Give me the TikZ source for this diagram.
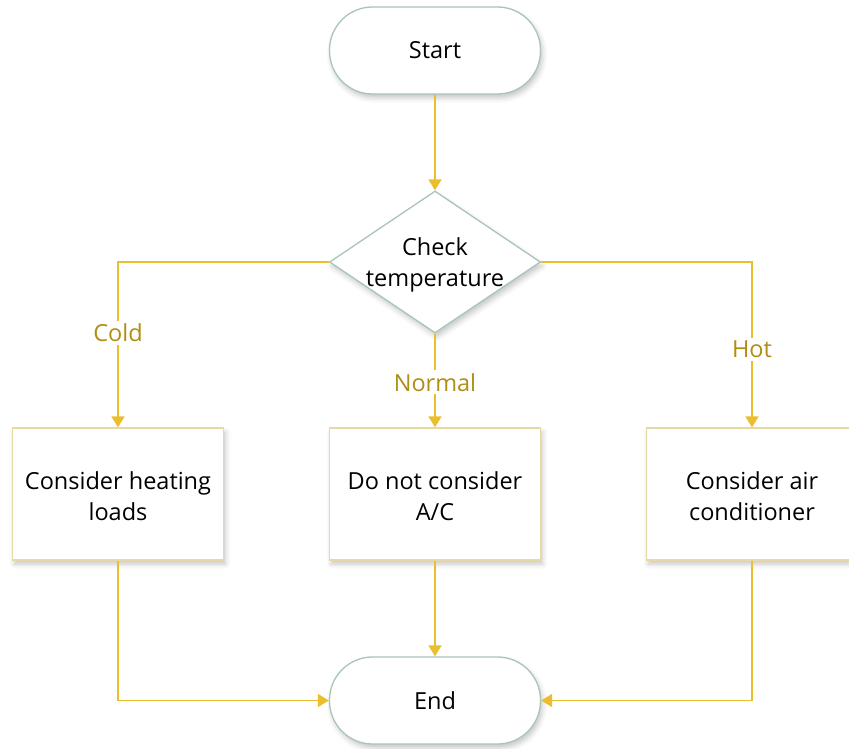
\documentclass[tikz,border=0pt]{standalone}
\usepackage{fontspec}
\setmainfont{Open Sans}
\usetikzlibrary{arrows.meta,shapes.geometric,shadows.blur}
\definecolor{flowline}{HTML}{EBBE2E}
\definecolor{flowlabel}{HTML}{B08E12}
\definecolor{termedge}{HTML}{A8C5B9}
\definecolor{boxedge}{HTML}{E6D9A4}
\tikzset{
  softshadow/.style={blur shadow={shadow xshift=2pt, shadow yshift=-4pt, shadow blur radius=5pt, shadow opacity=22}},
  terminal/.style={draw=termedge, line width=1.3pt, fill=white, rounded corners=43pt,
    minimum width=211pt, minimum height=87pt, softshadow, font=\fontsize{23.5}{27}\selectfont},
  decision/.style={draw=termedge, line width=1.3pt, fill=white, diamond, aspect=1.486,
    minimum width=211pt, minimum height=142pt, inner sep=0pt, softshadow},
  procbox/.style={draw=boxedge, line width=1.3pt, fill=white, minimum width=211pt,
    minimum height=132pt, softshadow},
  inner text/.style={align=center, inner sep=0pt, font=\fontsize{23.5}{31}\selectfont},
  flow/.style={draw=flowline, line width=1.8pt, -{Triangle[width=13pt,length=11pt]}},
  branch/.style={fill=white, text=flowlabel, inner sep=3pt, font=\fontsize{23.5}{27}\selectfont}
}
\begin{document}
\begin{tikzpicture}[x=1pt, y=-1pt]
  \useasboundingbox (0,0) rectangle (849,749);
  \clip (0,0) rectangle (849,749);

  % shapes
  \node[terminal] (start) at (435,50.5) {Start};
  \node[decision] (check) at (435,262) {};
  \node[procbox] (heat) at (118,494) {};
  \node[procbox] (none) at (435,494) {};
  \node[procbox] (cool) at (752,494) {};
  \node[terminal] (end) at (435,700.5) {End};

  % two-line texts inside the shapes
  \node[inner text] (checktext) at (435,264.5) {Check\\temperature};
  \node[inner text] (heattext) at (118,496.5) {Consider heating\\loads};
  \node[inner text] (nonetext) at (435,496.5) {Do not consider\\A/C};
  \node[inner text] (cooltext) at (752,496.5) {Consider air\\conditioner};

  \coordinate (cl) at (heat.north |- check.west);
  \coordinate (cr) at (cool.north |- check.east);
  \coordinate (bl) at (heat.south |- end.west);
  \coordinate (br) at (cool.south |- end.east);

  % connectors
  \draw[flow] (start) -- (check);
  \draw[flow] (check.west) -- (cl) -- node[branch, pos=0.43] {Cold} (heat.north);
  \draw[flow] (check.south) -- node[branch, pos=0.52] {Normal} (none.north);
  \draw[flow] (check.east) -- (cr) -- node[branch, pos=0.53] {Hot} (cool.north);
  \draw[flow] (heat.south) -- (bl) -- (end.west);
  \draw[flow] (none.south) -- (end.north);
  \draw[flow] (cool.south) -- (br) -- (end.east);
\end{tikzpicture}
\end{document}
